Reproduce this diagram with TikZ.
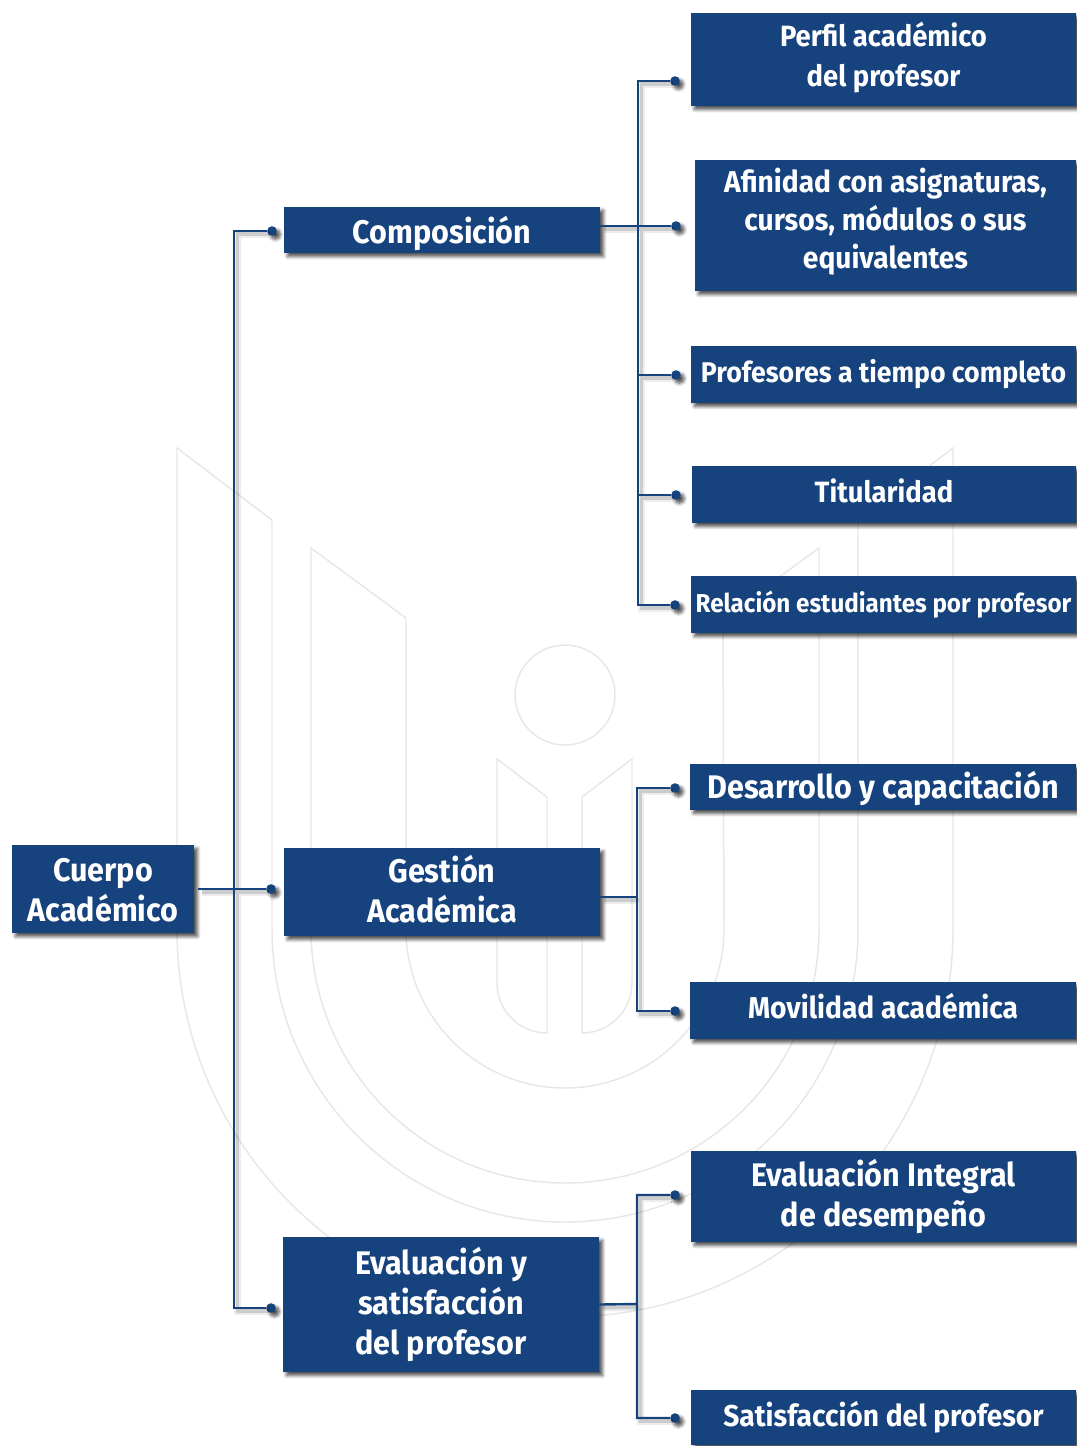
\documentclass[tikz,border=0pt]{standalone}
\usepackage{fontspec}
\setmainfont{Fira Sans}[FakeStretch=0.935]
\usetikzlibrary{shadows,shadows.blur}
\definecolor{boxblue}{HTML}{16427D}
\definecolor{markgray}{HTML}{E7E7E7}
\tikzset{
  softshadow/.style={blur shadow={shadow xshift=2.6pt, shadow yshift=-2.6pt, shadow blur steps=6, shadow blur radius=2.5pt, shadow opacity=70}},
  box/.style 2 args={draw=none, fill=boxblue, text=white, align=center, inner sep=0pt,
    minimum width=#1*0.75pt, minimum height=#2*0.75pt, softshadow},
  dotmark/.style={circle, fill=boxblue, inner sep=0pt, minimum size=7.2pt, softshadow},
  link/.style={draw=boxblue, line width=1.8pt},
  linkshadow/.style={draw=black, opacity=0.14, line width=2.6pt, transform canvas={shift={(2.6pt,-2.4pt)}}},
  linkblur/.style={draw=black, opacity=0.07, line width=5.5pt, transform canvas={shift={(2.6pt,-2.4pt)}}},
  logoline/.style={draw=markgray, line width=1.1pt}
}
\newcommand{\txtbig}{\fontsize{24.5}{30}\selectfont}
\newcommand{\txtmid}{\fontsize{22}{30}\selectfont}
\newcommand{\txtwide}{\fontsize{22.6}{30}\selectfont}
\newcommand{\txtprof}{\fontsize{21.4}{30}\selectfont}
\newcommand{\txtsmall}{\fontsize{19.4}{29}\selectfont}
\begin{document}
\begin{tikzpicture}[x=0.75pt, y=-0.75pt]
  \useasboundingbox (0,0) rectangle (1076,1446);

  % marca de agua
  \draw[logoline] (177,448) -- (272,520) -- (272,929) arc (180:0:293) -- (858,520) -- (953,448) -- (953,929) arc (0:180:388) -- cycle;
  \draw[logoline] (311,548) -- (406,618) -- (406,929) arc (180:0:159) -- (723,618) -- (819,548) -- (819,929) arc (0:180:254) -- cycle;
  \draw[logoline] (565,695) circle (50);
  \draw[logoline] (497,759) -- (547,797) -- (547,1033) arc (90:180:50) -- cycle;
  \draw[logoline] (632,759) -- (582,797) -- (582,1033) arc (90:0:50) -- cycle;

  % puntos de llegada
  \node[dotmark] (dComp) at (272,231) {};
  \node[dotmark] (dGest) at (271,889) {};
  \node[dotmark] (dEval) at (271,1308) {};
  \node[dotmark] (dPerfil) at (675,81) {};
  \node[dotmark] (dAfin) at (676,226) {};
  \node[dotmark] (dProf) at (676,375) {};
  \node[dotmark] (dTitu) at (676,495) {};
  \node[dotmark] (dRela) at (675,605) {};
  \node[dotmark] (dDesa) at (675,788) {};
  \node[dotmark] (dMovi) at (675,1011) {};
  \node[dotmark] (dInte) at (675,1195) {};
  \node[dotmark] (dSati) at (675,1418) {};

  % cajas
  \node[box={182}{88}, font=\bfseries\txtbig, text height=49.5pt] (Cuerpo) at (103,889) {Cuerpo\\Académico};
  \node[box={316}{46}, font=\bfseries\txtbig, text height=25.5pt] (Comp) at (442,230) {Composición};
  \node[box={316}{88}, font=\bfseries\txtbig, text depth=5pt] (Gest) at (442,892) {Gestión\\Académica};
  \node[box={316}{135}, font=\bfseries\txtbig] (Eval) at (441,1304.5) {Evaluación y\\satisfacción\\del profesor};
  \node[box={385}{93}, font=\bfseries\txtmid, text depth=7.5pt] (Perfil) at (883.5,59.5) {Perfil académico\\del profesor};
  \node[box={381}{131}, font=\bfseries\txtwide, text depth=11pt] (Afin) at (885.5,225.5) {Afinidad con asignaturas,\\[-1.5pt]cursos, módulos o sus\\[-1.5pt]equivalentes};
  \node[box={385}{57}, font=\bfseries\txtprof] (Prof) at (883.5,374.5) {Profesores a tiempo completo};
  \node[box={384}{57}, font=\bfseries\txtmid, text depth=6pt] (Titu) at (884,494.5) {Titularidad};
  \node[box={385}{57}, font=\bfseries\txtsmall] (Rela) at (883.5,604.5) {Relación estudiantes por profesor};
  \node[box={386}{46}, font=\bfseries\txtbig, text height=23pt] (Desa) at (883,787) {Desarrollo y capacitación};
  \node[box={386}{57}, font=\bfseries\txtwide, text depth=7.5pt] (Movi) at (883,1010.5) {Movilidad académica};
  \node[box={385}{91}, font=\bfseries\txtbig] (Inte) at (883.5,1196.5) {Evaluación Integral\\de desempeño};
  \node[box={385}{55}, font=\bfseries\txtwide] (Sati) at (883.5,1417.5) {Satisfacción del profesor};

  % troncos
  \coordinate (tRoot) at (234,889);
  \coordinate (tComp) at (638,226);
  \coordinate (tGest) at (637,897);
  \coordinate (tEval) at (637,1304);

  % conexiones
  \foreach \opt in {linkblur,linkshadow,link}{
    \draw[\opt] (Cuerpo.east) ++(3pt,0) -- (dGest) (tRoot) |- (dComp) (tRoot) |- (dEval);
    \draw[\opt] (Comp.east |- dAfin) -- (dAfin) (tComp) |- (dPerfil) (tComp) |- (dProf) (tComp) |- (dTitu) (tComp) |- (dRela);
    \draw[\opt] (Gest.east |- tGest) -- (tGest) (tGest) |- (dDesa) (tGest) |- (dMovi);
    \draw[\opt] (Eval.east) -- (tEval) (tEval) |- (dInte) (tEval) |- (dSati);
  }
\end{tikzpicture}
\end{document}
